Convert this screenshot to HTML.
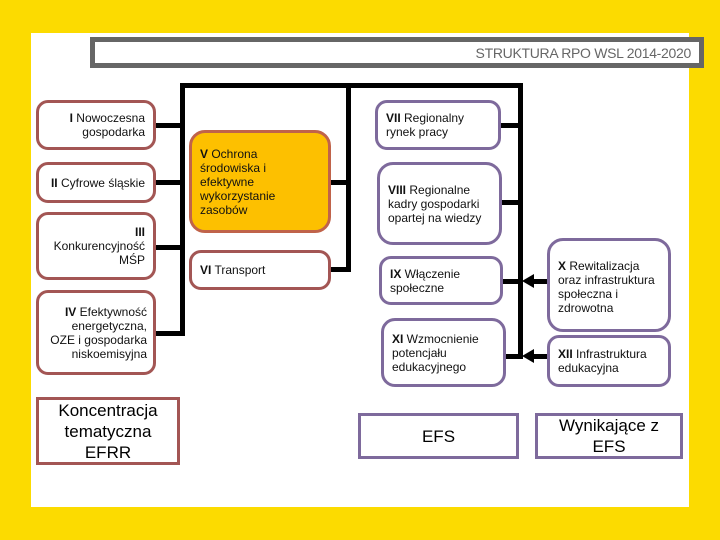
<!DOCTYPE html>
<html><head><meta charset="utf-8"><style>
body{margin:0;width:720px;height:540px;background:#fcdb00;position:relative;overflow:hidden;font-family:"Liberation Sans",sans-serif;}
.p{position:absolute;left:31px;top:33px;width:658px;height:474px;background:#fff}
.b{position:absolute;box-sizing:border-box;border:3px solid #a35654;border-radius:12px;background:#fff;font-size:12px;line-height:14px;color:#111;display:flex;align-items:center;padding:4px 8px;white-space:nowrap}
.r{justify-content:flex-end;text-align:right}
.u{border-color:#7e6a9c}
.l{position:absolute;background:#000}
.t{position:absolute;box-sizing:border-box;border:3px solid #a35654;background:#fff;display:flex;align-items:center;justify-content:center;text-align:center;font-size:17px;line-height:21px}
.arr{position:absolute;width:0;height:0;border-top:7px solid transparent;border-bottom:7px solid transparent;border-right:12px solid #000}
</style></head><body>
<div class="p"></div>
<div style="position:absolute;left:90px;top:37px;width:614px;height:31px;box-sizing:border-box;border:5px solid #666;background:#fff;text-align:right;font-size:14px;letter-spacing:-0.3px;color:#666;line-height:22px;padding-right:8px">STRUKTURA RPO WSL 2014-2020</div>
<div class="l" style="left:180px;top:83px;width:342px;height:5px"></div>
<div class="l" style="left:180px;top:83px;width:5px;height:253px"></div>
<div class="l" style="left:346px;top:83px;width:5px;height:189px"></div>
<div class="l" style="left:518px;top:83px;width:5px;height:276px"></div>
<div class="l" style="left:156px;top:123px;width:26px;height:5px"></div>
<div class="l" style="left:156px;top:180px;width:26px;height:5px"></div>
<div class="l" style="left:156px;top:245px;width:26px;height:5px"></div>
<div class="l" style="left:156px;top:331px;width:26px;height:5px"></div>
<div class="l" style="left:330px;top:180px;width:18px;height:5px"></div>
<div class="l" style="left:330px;top:267px;width:18px;height:5px"></div>
<div class="l" style="left:500px;top:123px;width:20px;height:5px"></div>
<div class="l" style="left:500px;top:200px;width:20px;height:5px"></div>
<div class="l" style="left:502px;top:279px;width:20px;height:5px"></div>
<div class="l" style="left:505px;top:354px;width:17px;height:5px"></div>
<div class="l" style="left:532px;top:279px;width:16px;height:5px"></div>
<div class="l" style="left:532px;top:354px;width:16px;height:5px"></div>
<div class="arr" style="left:522px;top:274px"></div>
<div class="arr" style="left:522px;top:349px"></div>
<div class="b r" style="left:36px;top:100px;width:120px;height:50px"><div><b>I</b> Nowoczesna<br>gospodarka</div></div>
<div class="b r" style="left:36px;top:162px;width:120px;height:41px"><div><b>II</b> Cyfrowe śląskie</div></div>
<div class="b r" style="left:36px;top:212px;width:120px;height:68px"><div><b>III</b><br>Konkurencyjność<br>MŚP</div></div>
<div class="b r" style="left:36px;top:290px;width:120px;height:85px;padding:4px 6px"><div><b>IV</b> Efektywność<br>energetyczna,<br>OZE i gospodarka<br>niskoemisyjna</div></div>
<div class="b" style="left:189px;top:130px;width:142px;height:103px;background:#fdc000;border-color:#c0634a;border-radius:16px"><div><b>V</b> Ochrona<br>środowiska i<br>efektywne<br>wykorzystanie<br>zasobów</div></div>
<div class="b" style="left:189px;top:250px;width:142px;height:40px;align-items:flex-start;padding-top:10px"><div><b>VI</b> Transport</div></div>
<div class="b u" style="left:375px;top:100px;width:126px;height:50px"><div><b>VII</b> Regionalny<br>rynek pracy</div></div>
<div class="b u" style="left:377px;top:162px;width:125px;height:83px;border-radius:16px"><div><b>VIII</b> Regionalne<br>kadry gospodarki<br>opartej na wiedzy</div></div>
<div class="b u" style="left:379px;top:256px;width:124px;height:49px"><div><b>IX</b> Włączenie<br>społeczne</div></div>
<div class="b u" style="left:381px;top:318px;width:125px;height:69px;border-radius:14px"><div><b>XI</b> Wzmocnienie<br>potencjału<br>edukacyjnego</div></div>
<div class="b u" style="left:547px;top:238px;width:124px;height:94px;border-radius:16px;align-items:flex-start;padding:18px 6px 4px 8px"><div><b>X</b> Rewitalizacja<br>oraz infrastruktura<br>społeczna i<br>zdrowotna</div></div>
<div class="b u" style="left:547px;top:335px;width:124px;height:52px"><div><b>XII</b> Infrastruktura<br>edukacyjna</div></div>
<div class="t" style="left:36px;top:397px;width:144px;height:68px">Koncentracja<br>tematyczna<br>EFRR</div>
<div class="t" style="left:358px;top:413px;width:161px;height:46px;border-color:#7e6a9c">EFS</div>
<div class="t" style="left:535px;top:413px;width:148px;height:46px;border-color:#7e6a9c">Wynikające z<br>EFS</div>
</body></html>
